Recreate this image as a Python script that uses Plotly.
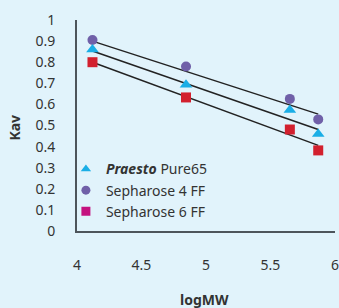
import plotly.graph_objects as go

log_mw = [4.12, 4.845, 5.65, 5.87]
kav_praesto = [0.86, 0.693, 0.574, 0.46]
kav_seph4 = [0.905, 0.78, 0.626, 0.529]
kav_seph6 = [0.80, 0.633, 0.481, 0.382]

fit_x = [4.12, 5.87]
fit_praesto = [0.853, 0.481]
fit_seph4 = [0.90, 0.554]
fit_seph6 = [0.80, 0.406]

x_ticks = [4, 4.5, 5, 5.5, 6]
y_ticks = [0, 0.1, 0.2, 0.3, 0.4, 0.5, 0.6, 0.7, 0.8, 0.9, 1]

names = ["<b><i>Praesto</i></b> Pure65", "Sepharose 4 FF", "Sepharose 6 FF"]

c_tri = "#1aaee6"
c_circ = "#7060a8"
c_sq = "#d2202e"
c_sq_leg = "#c4127f"
line_c = "#222222"
txt = "#333333"
bg = "#e1f3fb"
axis_c = "#4d555b"
font = "Noto Sans"

fig = go.Figure()
for fy in [fit_seph4, fit_praesto, fit_seph6]:
    fig.add_trace(go.Scatter(x=fit_x, y=fy, mode="lines",
                             line=dict(color=line_c, width=1.5), showlegend=False))

fig.add_trace(go.Scatter(x=log_mw, y=kav_seph4, mode="markers", showlegend=False,
                         marker=dict(symbol="circle", size=10, color=c_circ)))
fig.add_trace(go.Scatter(x=log_mw, y=kav_praesto, mode="markers", showlegend=False,
                         marker=dict(symbol="triangle-up", size=11, color=c_tri)))
fig.add_trace(go.Scatter(x=log_mw, y=kav_seph6, mode="markers", showlegend=False,
                         marker=dict(symbol="square", size=10, color=c_sq)))

# legend entries
for nm, sym, col in zip(names, ["triangle-up", "circle", "square"], [c_tri, c_circ, c_sq_leg]):
    fig.add_trace(go.Scatter(x=[None], y=[None], mode="markers", name=nm,
                             marker=dict(symbol=sym, size=9, color=col)))

fig.update_layout(
    width=339, height=308,
    margin=dict(l=77, r=4, t=20, b=77, autoexpand=False),
    paper_bgcolor=bg, plot_bgcolor=bg,
    font=dict(family=font, size=14, color=txt),
    showlegend=True,
    legend=dict(x=-0.043, y=0.368, xanchor="left", yanchor="top",
                bgcolor="rgba(0,0,0,0)", tracegroupgap=0,
                font=dict(family=font, size=14, color=txt), itemwidth=30),
    xaxis=dict(range=[4, 6], tickvals=x_ticks, ticktext=[str(v) for v in x_ticks],
               showgrid=False, zeroline=False, showline=True, linecolor=axis_c, linewidth=2,
               ticks="", ticklabelstandoff=20, automargin=False,
               ticklabeloverflow="allow"),
    yaxis=dict(range=[0, 1], tickvals=y_ticks, ticktext=[("%g" % v) for v in y_ticks],
               showgrid=False, zeroline=False, showline=True, linecolor=axis_c, linewidth=2,
               ticks="", ticklabelstandoff=17, automargin=False,
               ticklabeloverflow="allow"),
    annotations=[
        dict(text="<b>Kav</b>", x=(15 - 77) / 258, xref="paper", y=0.49, yref="paper",
             showarrow=False, textangle=-90, font=dict(size=14, color=txt, family=font),
             xanchor="center", yanchor="middle"),
        dict(text="<b>logMW</b>", x=0.496, xref="paper", y=(231.5 - 300) / 211.5, yref="paper",
             showarrow=False, font=dict(size=14, color=txt, family=font),
             xanchor="center", yanchor="middle"),
    ],
)

fig.write_html("out.html", config={"displayModeBar": False},
               post_script="document.body.style.margin='0';")
